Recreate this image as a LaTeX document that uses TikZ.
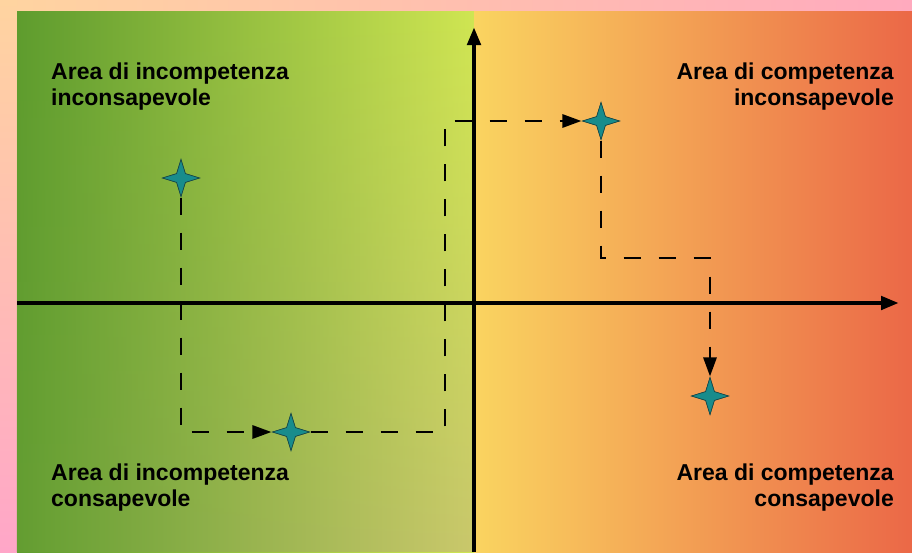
\documentclass[tikz,border=0pt]{standalone}
\usepackage{fontspec}
\setmainfont{Liberation Sans}
\usetikzlibrary{shapes.geometric,arrows.meta,fadings}
\definecolor{peach}{RGB}{255,212,160}
\definecolor{yelw}{RGB}{255,238,112}
\definecolor{pinkt}{RGB}{255,170,190}
\definecolor{pinkl}{RGB}{255,166,200}
\definecolor{gL}{RGB}{94,156,46}
\definecolor{gM}{RGB}{150,192,64}
\definecolor{gR}{RGB}{208,230,82}
\definecolor{gbL}{RGB}{100,158,50}
\definecolor{gbM}{RGB}{152,180,80}
\definecolor{gbR}{RGB}{202,200,108}
\definecolor{oL}{RGB}{250,212,96}
\definecolor{oM}{RGB}{242,156,92}
\definecolor{oR}{RGB}{235,104,71}
\definecolor{teal1}{RGB}{24,140,140}
\definecolor{tealdk}{RGB}{25,70,70}
\tikzfading[name=fadeup, top color=transparent!100, middle color=transparent!80, bottom color=transparent!0]
\tikzset{
  axisline/.style={line width=4.5pt,-{Triangle[length=18pt,width=13pt]}},
  pathline/.style={line width=2.8pt,dash pattern=on 17pt off 18pt},
  patharrow/.style={pathline,-{Triangle[length=19pt,width=13pt]}},
  starnode/.style={star,star points=4,star point ratio=3,minimum size=37pt,inner sep=0pt,fill=teal1,draw=tealdk,line width=0.6pt},
  lbl/.style={font=\fontsize{23}{26}\selectfont\bfseries,inner sep=0pt}
}
\begin{document}
\begin{tikzpicture}[x=1pt,y=-1pt]
\useasboundingbox (0,0) rectangle (912,552);
% frame
\shade[left color=peach,middle color=yelw,right color=pinkt] (0,0) rectangle (912,11);
\shade[top color=peach,bottom color=pinkl] (0,0) rectangle (17,552);
% panels
\shade[left color=gL,middle color=gM,right color=gR] (17,11) rectangle (474,552);
\shade[left color=gbL,middle color=gbM,right color=gbR,path fading=fadeup] (17,11) rectangle (474,552);
\shade[left color=oL,middle color=oM,right color=oR] (474,11) rectangle (912,552);
% axes
\coordinate (xs) at (17,303);
\coordinate (xe) at (899,303);
\coordinate (ys) at (474,552);
\coordinate (ye) at (474,27);
\draw[axisline] (xs) -- (xe);
\draw[axisline] (ys) -- (ye);
% stars
\node[starnode] (s1) at (181,178) {};
\node[starnode] (s2) at (291,432) {};
\node[starnode] (s3) at (601,121) {};
\node[starnode] (s4) at (710,396) {};
% corners
\coordinate (c1) at (445,432);
\coordinate (c2) at (445,121);
\coordinate (c3) at (601,258);
\coordinate (c4) at (710,258);
% dashed path
\draw[patharrow] (s1) |- (s2);
\draw[patharrow] (s2) -- (c1) -- (c2) -- (s3);
\draw[patharrow] (s3) -- (c3) -- (c4) -- (s4);
% redraw stars on top
\node[starnode] at (s1) {};
\node[starnode] at (s2) {};
\node[starnode] at (s3) {};
\node[starnode] at (s4) {};
% labels
\node[lbl,anchor=base west,align=left] (tl) at (51,105) {Area di incompetenza\\inconsapevole};
\node[lbl,anchor=base east,align=right] (tr) at (894,105) {Area di competenza\\inconsapevole};
\node[lbl,anchor=base west,align=left] (bl) at (51,506) {Area di incompetenza\\consapevole};
\node[lbl,anchor=base east,align=right] (br) at (894,506) {Area di competenza\\consapevole};
\end{tikzpicture}
\end{document}
